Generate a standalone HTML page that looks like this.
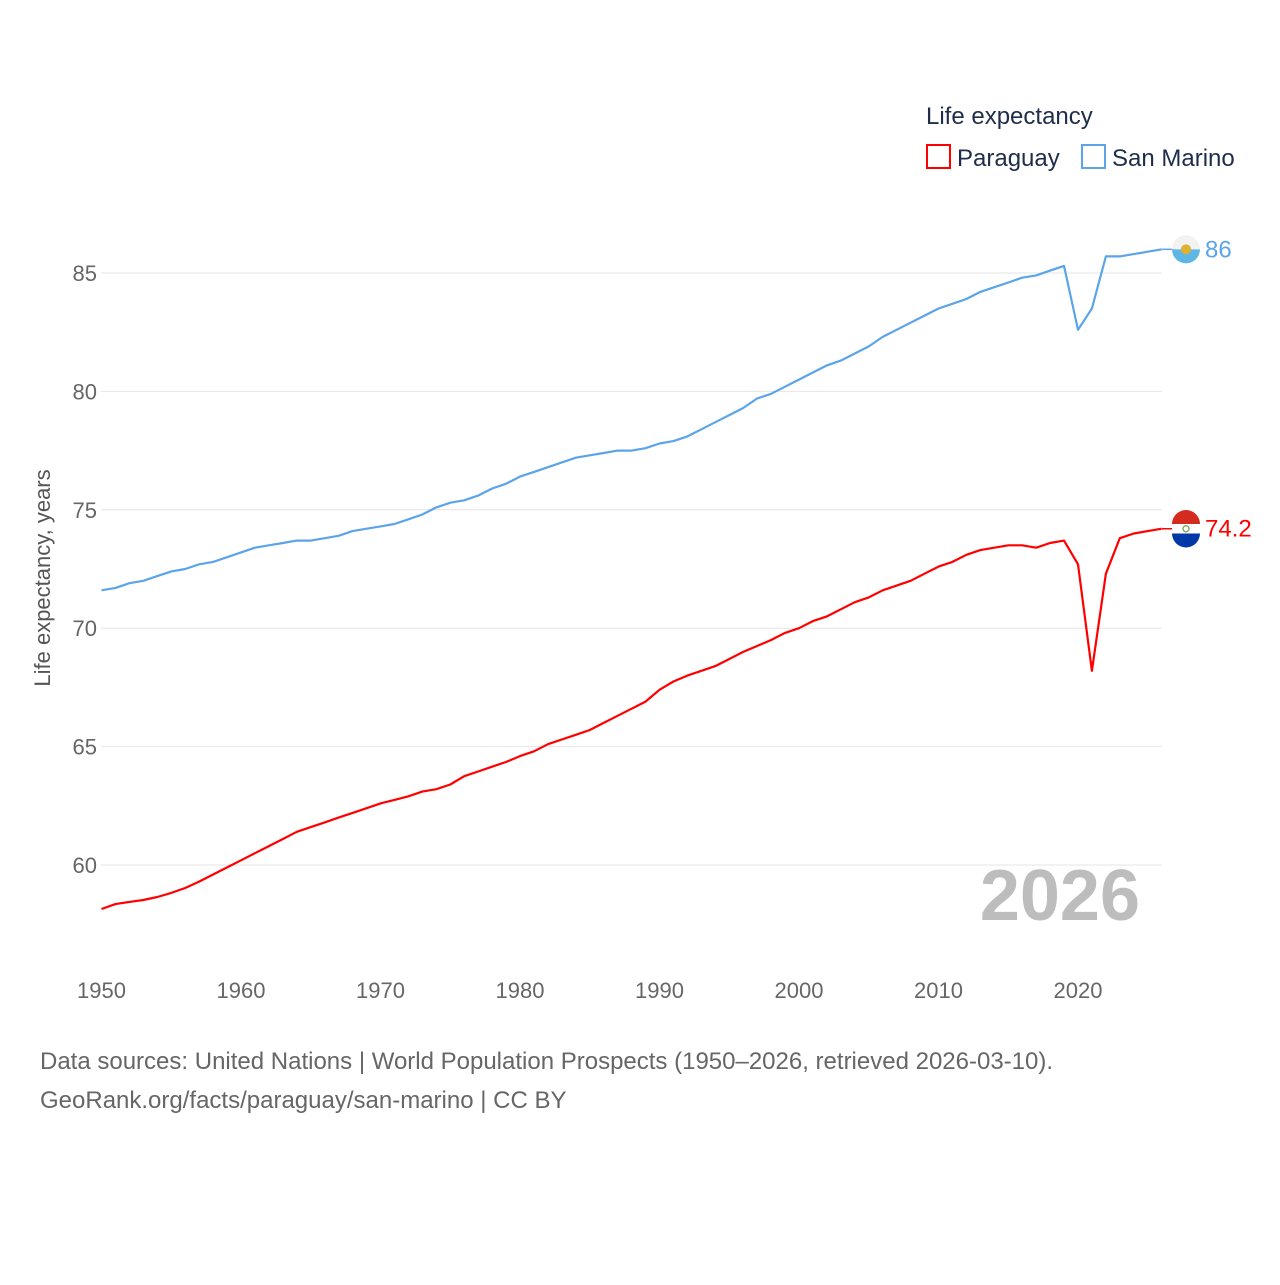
<!DOCTYPE html>
<html><head><meta charset="utf-8">
<style>
body{margin:0;background:#fff;font-family:"Liberation Sans",sans-serif;}
svg text{font-family:"Liberation Sans",sans-serif;}
</style></head>
<body>
<svg id="chart" width="1280" height="1280" viewBox="0 0 1280 1280">
<g id="grid"></g>
<g id="yticks"></g>
<g id="xticks"></g>
<text x="1140" y="920" text-anchor="end" font-size="72" font-weight="bold" fill="#bdbdbd">2026</text>
<text transform="translate(50,578) rotate(-90)" text-anchor="middle" font-size="22" fill="#555">Life expectancy, years</text>
<g id="series"></g>
<g>
<text x="926" y="124" font-size="24" fill="#1f2d4a">Life expectancy</text>
<g><rect x="927" y="145" width="23" height="23" fill="none" stroke="#f00" stroke-width="2"/><text x="957" y="166" font-size="24" fill="#1f2d4a">Paraguay</text></g>
<g><rect x="1082" y="145" width="23" height="23" fill="none" stroke="#5ba4ea" stroke-width="2"/><text x="1112" y="166" font-size="24" fill="#1f2d4a">San Marino</text></g>
</g>
<text x="40" y="1069" font-size="24" fill="#666">Data sources: United Nations | World Population Prospects (1950–2026, retrieved 2026-03-10).</text>
<text x="40" y="1108" font-size="24" fill="#666">GeoRank.org/facts/paraguay/san-marino | CC BY</text>
</svg>
<script>
const years=[];for(let y=1950;y<=2026;y++)years.push(y);
const paraguay=[58.14,58.35,58.44,58.52,58.65,58.82,59.03,59.3,59.6,59.9,60.2,60.5,60.8,61.1,61.4,61.6,61.8,62.0,62.2,62.4,62.6,62.75,62.9,63.1,63.2,63.4,63.75,63.95,64.15,64.35,64.6,64.8,65.1,65.3,65.5,65.7,66.0,66.3,66.6,66.9,67.4,67.75,68.0,68.2,68.4,68.7,69.0,69.25,69.5,69.8,70.0,70.3,70.5,70.8,71.1,71.3,71.6,71.8,72.0,72.3,72.6,72.8,73.1,73.3,73.4,73.5,73.5,73.4,73.6,73.7,72.7,68.2,72.3,73.8,74.0,74.1,74.2];
const sanMarino=[71.6,71.7,71.9,72.0,72.2,72.4,72.5,72.7,72.8,73.0,73.2,73.4,73.5,73.6,73.7,73.7,73.8,73.9,74.1,74.2,74.3,74.4,74.6,74.8,75.1,75.3,75.4,75.6,75.9,76.1,76.4,76.6,76.8,77.0,77.2,77.3,77.4,77.5,77.5,77.6,77.8,77.9,78.1,78.4,78.7,79.0,79.3,79.7,79.9,80.2,80.5,80.8,81.1,81.3,81.6,81.9,82.3,82.6,82.9,83.2,83.5,83.7,83.9,84.2,84.4,84.6,84.8,84.9,85.1,85.3,82.6,83.5,85.7,85.7,85.8,85.9,86.0];
const yTicks=[60,65,70,75,80,85];
const xTicks=[1950,1960,1970,1980,1990,2000,2010,2020];
const X=v=>101.5+(v-1950)*13.95;
const Y=v=>865-(v-60)*23.68;
const NS="http://www.w3.org/2000/svg";
function mk(tag,parent,attrs){const e=document.createElementNS(NS,tag);for(const k in attrs)e.setAttribute(k,attrs[k]);parent.appendChild(e);return e;}
const grid=document.getElementById('grid'),yt=document.getElementById('yticks'),xt=document.getElementById('xticks'),ser=document.getElementById('series');
yTicks.forEach(t=>{
 const l=mk('line',grid,{x1:101,x2:1162,y1:Y(t),y2:Y(t),stroke:'#e6e6e6','stroke-width':1});
 
 
 const tx=mk('text',yt,{x:97,y:Y(t)+8,'text-anchor':'end','font-size':22,fill:'#666'});tx.textContent=t;
 
 
});
xTicks.forEach(t=>{
 const tx=mk('text',xt,{x:X(t),y:998,'text-anchor':'middle','font-size':22,fill:'#666'});tx.textContent=t;
 
 
});
function series(vals,color,name,label,flag){
 const d=vals.map((v,i)=>(i?'L':'M')+X(years[i]).toFixed(1)+','+Y(v).toFixed(1)).join('');
 const p=mk('path',ser,{d:d,fill:'none',stroke:color,'stroke-width':2.2,'stroke-linejoin':'round'});
 
 
 const lv=vals[vals.length-1],ly=Y(lv);
 mk('line',ser,{x1:1162,x2:1176,y1:ly,y2:ly,stroke:color,'stroke-width':1.5});
 const g=mk('g',ser,{});
 
 
 const cx=1186,r=14;
 if(flag==='py'){
  mk('circle',g,{cx:cx,cy:ly,r:r,fill:'#fff'});
  mk('path',g,{d:`M${cx-r},${ly-4.7}A${r},${r} 0 0 1 ${cx+r},${ly-4.7}Z`,fill:'#d52b1e'});
  mk('path',g,{d:`M${cx-r},${ly+4.7}A${r},${r} 0 0 0 ${cx+r},${ly+4.7}Z`,fill:'#0038a8'});
  mk('circle',g,{cx:cx,cy:ly,r:3,fill:'none',stroke:'#8a6',"stroke-width":1.5});
 }else{
  mk('path',g,{d:`M${cx-r},${ly}A${r},${r} 0 0 1 ${cx+r},${ly}Z`,fill:'#f2f2f2'});
  mk('path',g,{d:`M${cx-r},${ly}A${r},${r} 0 0 0 ${cx+r},${ly}Z`,fill:'#5eb6e4'});
  mk('circle',g,{cx:cx,cy:ly,r:5,fill:'#e0b030'});
 }
 const t=mk('text',ser,{x:1205,y:ly+8,'font-size':24,fill:color});t.textContent=label;
 
 
}
series(sanMarino,'#5ba4ea','san-marino','86','sm');
series(paraguay,'#ff0000','paraguay','74.2','py');
</script>
</body></html>
